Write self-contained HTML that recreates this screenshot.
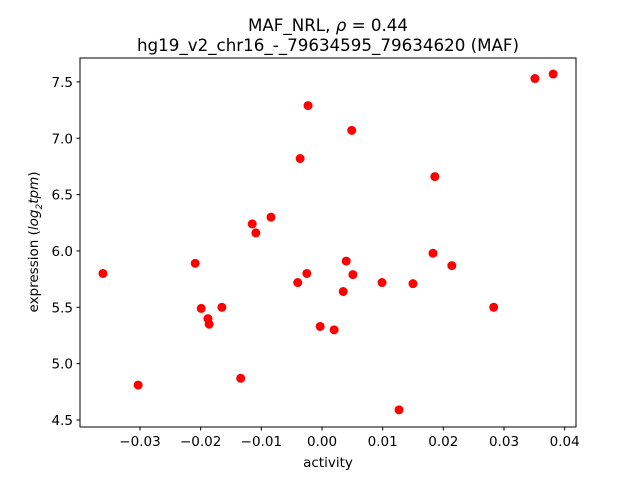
<!DOCTYPE html>
<html><head><meta charset="utf-8"><style>
body{margin:0;background:#fff;}
svg{font-family:"DejaVu Sans","Liberation Sans",sans-serif;}
</style></head><body>
<svg id="chart" width="640" height="480">
<rect width="640" height="480" fill="#fff"/>
<text x="328" y="31" text-anchor="middle" font-size="16.7">MAF_NRL, <tspan font-style="italic">ρ</tspan> = 0.44</text>
<text x="328" y="51" text-anchor="middle" font-size="16.7">hg19_v2_chr16_-_79634595_79634620 (MAF)</text>
<g id="ticks"></g>
<g id="points"></g>
<rect x="80" y="58" width="496" height="369" fill="none" stroke="#000" stroke-width="1"/>
<text x="328" y="467" text-anchor="middle" font-size="13.5">activity</text>
<text transform="translate(38,242) rotate(-90)" text-anchor="middle" font-size="13.5">expression (<tspan font-style="italic">log</tspan><tspan font-size="9" dy="4" font-style="italic">2</tspan><tspan dy="-4" font-style="italic">tpm</tspan>)</text>
</svg>
<script>
const activity=[-0.0361,-0.0303,-0.0209,-0.0199,-0.0188,-0.0186,-0.0165,-0.0134,-0.0115,-0.0109,-0.0084,-0.0040,-0.0036,-0.0025,-0.0023,-0.0003,0.0020,0.0035,0.0040,0.0049,0.0051,0.0099,0.0127,0.0150,0.0183,0.0186,0.0214,0.0283,0.0351,0.0381];
const expression=[5.80,4.81,5.89,5.49,5.40,5.35,5.50,4.87,6.24,6.16,6.30,5.72,6.82,5.80,7.29,5.33,5.30,5.64,5.91,7.07,5.79,5.72,4.59,5.71,5.98,6.66,5.87,5.50,7.53,7.57];
const xTicks=[-0.03,-0.02,-0.01,0.00,0.01,0.02,0.03,0.04];
const xTickLabels=["−0.03","−0.02","−0.01","0.00","0.01","0.02","0.03","0.04"];
const yTicks=[4.5,5.0,5.5,6.0,6.5,7.0,7.5];
const yTickLabels=["4.5","5.0","5.5","6.0","6.5","7.0","7.5"];
const NS="http://www.w3.org/2000/svg";
function xs(v){return 322+v*6067;}
function ys(v){return 420-(v-4.5)*112.7;}
const tg=document.getElementById('ticks');
function mk(tag,attrs,parent){const e=document.createElementNS(NS,tag);for(const k in attrs)e.setAttribute(k,attrs[k]);parent.appendChild(e);return e;}
xTicks.forEach((t,i)=>{
  const x=xs(t);
  const l=mk('line',{x1:x,x2:x,y1:427,y2:430.5,stroke:'#000'},tg);
  
  
  const tx=mk('text',{x:x,y:446,'text-anchor':'middle','font-size':'13.5'},tg);
  tx.textContent=xTickLabels[i];
  
  
});
yTicks.forEach((t,i)=>{
  const y=ys(t);
  const l=mk('line',{x1:76.5,x2:80,y1:y,y2:y,stroke:'#000'},tg);
  
  
  const tx=mk('text',{x:73,y:y+5,'text-anchor':'end','font-size':'13.5'},tg);
  tx.textContent=yTickLabels[i];
  
  
});
const pg=document.getElementById('points');
activity.forEach((a,i)=>{
  const c=mk('circle',{cx:xs(a),cy:ys(expression[i]),r:4.5,fill:'#ff0000'},pg);
  
  
});
</script>
</body></html>
